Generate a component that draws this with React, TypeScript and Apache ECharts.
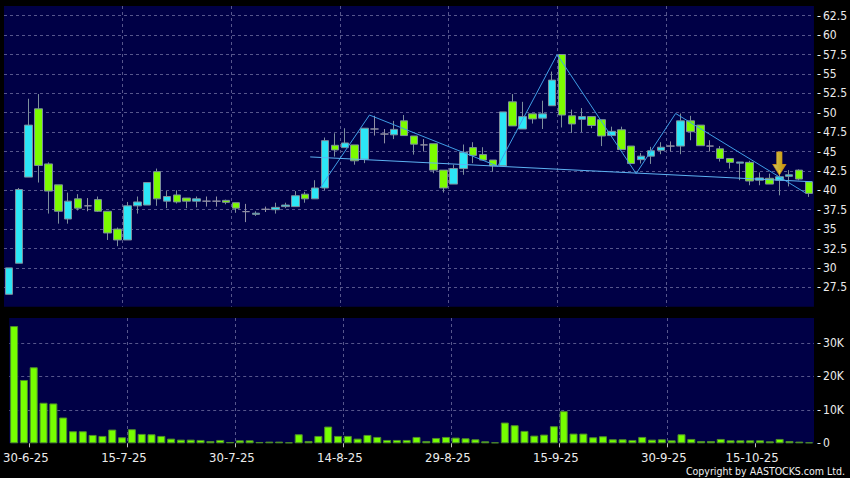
import React, { useEffect, useRef } from 'react';
import * as echarts from 'echarts';

// Trading days (categories)
const dates = [
  '27-6-25', '30-6-25', '2-7-25', '3-7-25', '4-7-25', '7-7-25', '8-7-25', '9-7-25', '10-7-25', '11-7-25',
  '14-7-25', '15-7-25', '16-7-25', '17-7-25', '18-7-25', '21-7-25', '22-7-25', '23-7-25', '24-7-25', '25-7-25',
  '28-7-25', '29-7-25', '30-7-25', '31-7-25', '1-8-25', '4-8-25', '5-8-25', '6-8-25', '7-8-25', '8-8-25',
  '11-8-25', '12-8-25', '13-8-25', '14-8-25', '15-8-25', '18-8-25', '19-8-25', '20-8-25', '21-8-25', '22-8-25',
  '25-8-25', '26-8-25', '27-8-25', '28-8-25', '29-8-25', '1-9-25', '2-9-25', '3-9-25', '4-9-25', '5-9-25',
  '8-9-25', '9-9-25', '10-9-25', '11-9-25', '12-9-25', '15-9-25', '16-9-25', '17-9-25', '18-9-25', '19-9-25',
  '22-9-25', '23-9-25', '24-9-25', '25-9-25', '26-9-25', '29-9-25', '30-9-25', '2-10-25', '3-10-25', '6-10-25',
  '8-10-25', '9-10-25', '10-10-25', '13-10-25', '14-10-25', '15-10-25', '16-10-25', '17-10-25', '20-10-25', '21-10-25',
  '22-10-25', '23-10-25',
];

// [open, close, low, high]
const ohlc = [
  [26.6, 30.0, 26.6, 30.0], [30.6, 40.1, 30.6, 40.3], [41.7, 48.4, 41.7, 51.8], [50.5, 43.2, 41.0, 52.4],
  [43.4, 39.9, 37.0, 43.6], [40.7, 37.3, 35.7, 40.7], [36.3, 38.6, 35.7, 39.7], [38.9, 37.7, 37.4, 39.5],
  [38.0, 38.0, 37.3, 39.0], [38.8, 37.3, 37.2, 39.2], [37.3, 34.5, 33.6, 37.3], [35.0, 33.6, 32.8, 35.2],
  [33.6, 38.0, 33.6, 38.5], [38.0, 38.5, 37.0, 39.2], [38.1, 41.0, 38.1, 41.0], [42.4, 38.9, 38.0, 42.8],
  [38.6, 39.2, 37.7, 39.9], [39.4, 38.5, 38.3, 40.0], [39.0, 38.6, 37.7, 39.0], [38.6, 38.9, 37.8, 39.2],
  [38.6, 38.6, 37.9, 39.2], [38.6, 38.6, 37.9, 39.2], [38.7, 38.45, 38.2, 38.8], [38.4, 37.7, 37.1, 38.4],
  [37.25, 37.25, 35.9, 38.25], [36.9, 37.05, 36.7, 37.3], [37.55, 37.55, 37.2, 37.9], [37.5, 37.8, 37.0, 38.4],
  [37.9, 38.1, 37.7, 38.4], [37.9, 39.3, 37.9, 39.9], [39.5, 38.9, 38.4, 39.8], [38.9, 40.3, 38.9, 41.3],
  [40.3, 46.4, 40.0, 46.8], [45.8, 45.2, 44.35, 47.35], [45.5, 46.1, 45.5, 48.0], [45.85, 43.8, 43.3, 45.85],
  [44.0, 48.0, 43.5, 48.0], [47.9, 47.9, 47.05, 49.6], [47.25, 47.25, 46.05, 47.9], [47.15, 47.85, 46.6, 48.95],
  [48.95, 47.05, 47.05, 49.7], [47.0, 45.95, 44.6, 47.0], [45.85, 45.85, 45.0, 46.6], [46.0, 42.6, 42.2, 46.0],
  [42.6, 40.3, 39.7, 42.6], [40.8, 42.8, 40.8, 43.3], [42.8, 44.9, 42.0, 45.9], [45.5, 44.5, 43.5, 46.2],
  [44.6, 43.9, 43.9, 45.55], [43.9, 43.15, 42.4, 43.9], [43.15, 50.1, 43.15, 50.1], [51.4, 48.3, 48.3, 52.4],
  [47.9, 49.5, 47.9, 51.4], [49.85, 49.2, 48.6, 49.85], [49.3, 49.85, 47.9, 51.55], [50.9, 54.2, 50.9, 55.3],
  [57.5, 49.7, 48.1, 57.5], [49.6, 48.55, 47.4, 50.4], [49.15, 49.5, 47.5, 50.6], [49.5, 48.35, 48.0, 49.5],
  [49.1, 47.0, 45.7, 49.1], [47.05, 47.6, 47.0, 48.2], [47.8, 45.25, 45.25, 48.2], [45.7, 43.45, 43.45, 45.7],
  [43.95, 44.4, 43.45, 44.8], [44.4, 45.1, 43.4, 45.6], [45.15, 45.55, 44.65, 46.2], [45.7, 45.7, 45.0, 46.3],
  [45.7, 48.95, 44.65, 49.9], [48.95, 47.55, 46.45, 49.6], [48.4, 45.75, 45.75, 48.4], [45.7, 45.7, 45.0, 46.45],
  [45.35, 44.1, 43.7, 45.7], [44.1, 43.6, 42.8, 44.1], [43.5, 43.65, 41.3, 43.65], [43.6, 41.2, 40.65, 43.8],
  [41.3, 41.6, 40.65, 42.3], [41.55, 40.8, 40.8, 42.15], [41.3, 41.75, 39.35, 42.6], [41.8, 42.0, 40.5, 42.6],
  [42.6, 41.45, 41.3, 42.7], [41.1, 39.6, 39.15, 41.1],
];

const volumes = [
  35000, 18900, 22700, 12100, 11900, 7700, 3600, 3600, 2500, 2200,
  4100, 1800, 4200, 2800, 2700, 2200, 1400, 1100, 1100, 1000,
  700, 1000, 400, 900, 900, 400, 500, 500, 300, 2700,
  700, 2200, 5000, 2200, 2200, 1400, 2500, 1900, 1000, 1000,
  1000, 1900, 700, 1600, 1900, 1700, 1500, 1200, 600, 300,
  6200, 5400, 3700, 2300, 2600, 5100, 9600, 2900, 2900, 1800,
  2100, 1200, 1200, 1000, 1900, 1100, 1200, 900, 2700, 1300,
  700, 700, 1300, 900, 900, 900, 900, 600, 1300, 700,
  500, 300,
];

// indices of dates that get a label (grid line on the boundary after them)
const labelIdx = [1, 11, 22, 33, 44, 55, 66, 75];

// trend lines: [position in candle units, price]
const zigzag = [
  [31.5, 40.3], [36.5, 49.7], [49.5, 43.1], [55.5, 57.5], [63.5, 42.15], [67.5, 49.9], [80.6, 39.7],
];
const neckline = [
  [30.5, 44.3], [81.3, 41.1],
];

const arrowDate = '20-10-25';
const arrowPrice = 43.45;

const FONT = "'DejaVu Sans Condensed', 'DejaVu Sans', sans-serif";

export default function App() {
  const ref = useRef<HTMLDivElement>(null);
  useEffect(() => {
    document.body.style.margin = '0';
    const el = ref.current;
    if (!el) return;
    const chart = echarts.init(el, null, { renderer: 'svg' });

    const boundaryCats = [''].concat(dates);
    const splitSet = new Set(labelIdx.map((i) => i + 1));
    const gridLine = { color: '#56568c', width: 1, type: [3, 3] as number[] };
    const textColor = '#ececec';
    const up = '#2CE6F6';
    const down = '#7CFC00';
    const edge = '#7d8f9c';

    chart.setOption({
      animation: false,
      backgroundColor: '#000000',
      grid: [
        { left: 4, right: 36, top: 6, height: 300.7, show: true, backgroundColor: '#000046', borderWidth: 0 },
        { left: 4, right: 36, top: 318, height: 125.3, show: true, backgroundColor: '#000046', borderWidth: 0 },
      ],
      xAxis: [
        {
          type: 'category', gridIndex: 0, data: dates, boundaryGap: true,
          axisLine: { show: false }, axisTick: { show: false }, axisLabel: { show: false }, splitLine: { show: false },
        },
        { type: 'value', gridIndex: 0, min: -0.5, max: 81.5, show: false },
        {
          type: 'category', gridIndex: 0, data: boundaryCats, boundaryGap: false,
          axisLine: { show: false }, axisTick: { show: false }, axisLabel: { show: false },
          splitLine: {
            show: true, showMinLine: false, showMaxLine: false,
            interval: (i: number) => splitSet.has(i), lineStyle: gridLine,
          },
        },
        {
          type: 'category', gridIndex: 1, position: 'bottom', data: boundaryCats, boundaryGap: false, offset: 3,
          axisLine: { show: false },
          axisTick: { show: true, length: 4, interval: (i: number) => splitSet.has(i), lineStyle: { color: '#bfbfbf' } },
          axisLabel: {
            interval: (i: number) => splitSet.has(i), color: textColor, fontFamily: FONT, fontSize: 13, margin: 5,
            padding: [0, 6, 0, 0],
          },
          splitLine: {
            show: true, showMinLine: false, showMaxLine: false,
            interval: (i: number) => splitSet.has(i), lineStyle: gridLine,
          },
        },
        {
          type: 'category', gridIndex: 1, data: dates, boundaryGap: true,
          axisLine: { show: false }, axisTick: { show: false }, axisLabel: { show: false }, splitLine: { show: false },
        },
      ],
      yAxis: [
        {
          type: 'value', gridIndex: 0, position: 'right', min: 25, max: 63.75, interval: 2.5,
          axisLine: { show: false }, axisTick: { show: false },
          axisLabel: {
            color: textColor, fontFamily: FONT, fontSize: 12, margin: 3, showMinLabel: false, showMaxLabel: false,
            formatter: (v: number) => '-\u2009' + v,
          },
          splitLine: { show: true, showMinLine: false, showMaxLine: false, lineStyle: gridLine },
        },
        {
          type: 'value', gridIndex: 1, position: 'right', min: 0, max: 37400, interval: 10000,
          axisLine: { show: false }, axisTick: { show: false },
          axisLabel: {
            color: textColor, fontFamily: FONT, fontSize: 12, margin: 3, showMaxLabel: false,
            formatter: (v: number) => '-\u2009' + (v === 0 ? '0' : v / 1000 + 'K'),
          },
          splitLine: { show: true, showMinLine: false, showMaxLine: false, lineStyle: gridLine },
        },
      ],
      series: [
        {
          type: 'candlestick', xAxisIndex: 0, yAxisIndex: 0, data: ohlc, barWidth: 8,
          itemStyle: {
            color: up, color0: down, borderColor: edge, borderColor0: edge, borderColorDoji: '#9090a4', borderWidth: 1,
          },
          z: 2,
        },
        {
          type: 'bar', xAxisIndex: 4, yAxisIndex: 1, data: volumes, barWidth: 8,
          itemStyle: { color: '#76FF00', borderColor: '#4e8a2c', borderWidth: 1 },
        },
        {
          type: 'line', xAxisIndex: 1, yAxisIndex: 0, data: zigzag, symbol: 'none',
          lineStyle: { color: '#3f9de6', width: 1 }, z: 5,
        },
        {
          type: 'line', xAxisIndex: 1, yAxisIndex: 0, data: neckline, symbol: 'none',
          lineStyle: { color: '#5db2f2', width: 1 }, z: 5,
        },
        {
          type: 'scatter', xAxisIndex: 0, yAxisIndex: 0, data: [[arrowDate, arrowPrice]],
          symbol: 'path://M3.5,0 L8.5,0 L8.5,12 L12,12 L6,22 L0,12 L3.5,12 Z',
          symbolSize: [13, 23], symbolKeepAspect: false,
          itemStyle: {
            color: new echarts.graphic.LinearGradient(0, 0, 1, 0, [
              { offset: 0, color: '#FFF070' },
              { offset: 0.55, color: '#FFD81E' },
              { offset: 1, color: '#F2B000' },
            ]),
            borderColor: '#E09A10', borderWidth: 0.8,
          },
          z: 6,
        },
      ],
      graphic: [
        {
          type: 'text', right: 5, top: 465,
          style: { text: 'Copyright by AASTOCKS.com Ltd.', fill: '#f0f0f0', font: "10.5px 'DejaVu Sans Condensed', 'DejaVu Sans', sans-serif" },
        },
      ],
    });
    return () => chart.dispose();
  }, []);
  return (
    <div
      ref={ref}
      style={{ position: 'fixed', left: 0, top: 0, width: 850, height: 478, background: '#000' }}
    />
  );
}
